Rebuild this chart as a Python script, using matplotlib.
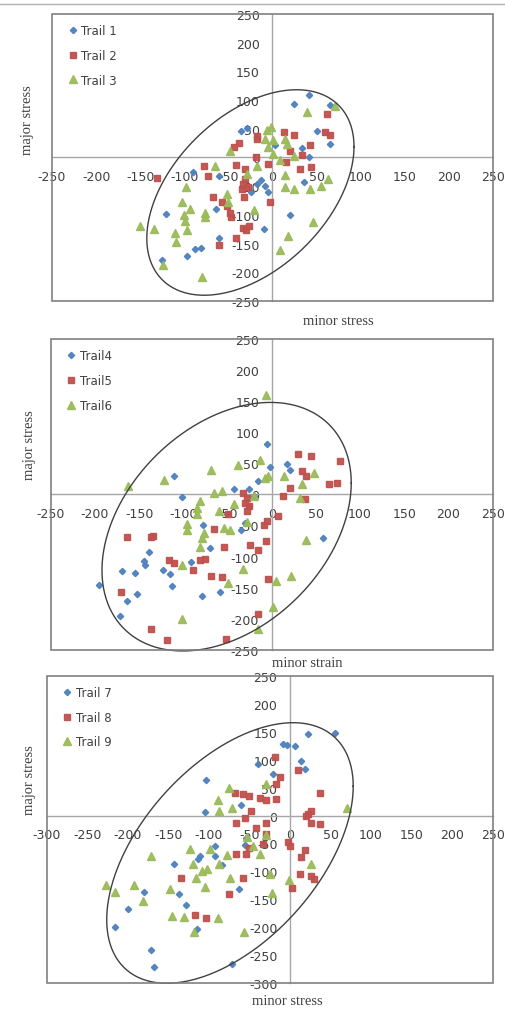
import numpy as np
import matplotlib
matplotlib.use('Agg')
import matplotlib.pyplot as plt
from matplotlib.patches import Rectangle
from matplotlib.lines import Line2D

plt.rcParams['axes.unicode_minus'] = False

# ---- data ----
t1_x = [42, 25, 65, -36, -29, 50, 65, 3, 33, 41, 36, -8, -18, -61, -90, -24, -5, -121, -64, 20,
        -10, -61, -81, -88, -97, -125, -13]
t1_y = [109, 93, 92, 46, 51, 46, 24, 21, 16, 0, -43, -49, -46, -32, -26, -61, -61, -98, -90, -100,
        -125, -141, -158, -159, -171, -178, -40]
t2_x = [62, 60, 65, 24, 13, -18, -38, -44, 43, 20, 33, -19, -5, 15, 31, 44, -78, -73, -41, -131,
        -31, -33, -34, -28, -67, -57, -52, -48, -47, -32, -33, -27, -30, -41, -61, -3, -18, -31]
t2_y = [76, 44, 39, 39, 44, 38, 25, 18, 22, 12, 4, 0, -11, -8, -20, -16, -14, -33, -13, -35,
        -38, -46, -55, -52, -68, -77, -84, -96, -103, -69, -122, -119, -127, -141, -152, -78, 32, -20]
t3_x = [71, 39, -2, -6, -48, -8, -5, 1, 14, 16, 24, 8, -18, -29, -65, 14, 14, 24, 43, 55, 63,
        -98, -103, -93, -100, -99, -76, -76, -51, -50, -150, -134, -111, -109, -97, -124, -80,
        46, 18, 9, -21, 1]
t3_y = [89, 79, 53, 48, 12, 32, 18, 6, 32, 24, 3, -5, -14, -29, -14, -31, -52, -55, -55, -49, -38,
        -52, -78, -90, -100, -110, -96, -104, -64, -78, -119, -125, -132, -147, -127, -188, -209,
        -112, -136, -161, -91, 31]

t4_x = [-5, -2, 17, 21, -16, -43, -26, -111, -101, -78, -70, -35, -30, -20, -139, -144, -143, -169,
        -155, -152, -164, -172, -195, -123, -115, -113, -91, -79, -59, 58, -50, -26]
t4_y = [81, 44, 49, 39, 21, 9, 8, 29, -5, -49, -86, -57, -46, -3, -92, -108, -113, -123,
        -127, -160, -171, -196, -146, -121, -128, -148, -109, -163, -157, -70, -32, -19]
t5_x = [30, 44, 77, 34, 39, 65, 74, 21, 13, 38, -32, -28, -30, -26, -28, -49, 7, -5, -9, -65,
        -24, -16, -6, -54, -164, -137, -134, -116, -111, -89, -81, -75, -69, -56, -4, -171,
        -137, -118, -52, -15]
t5_y = [65, 62, 53, 37, 29, 16, 19, 11, -3, -8, 3, -6, -14, -19, -27, -32, -34, -43, -49, -55,
        -82, -89, -75, -84, -68, -68, -67, -106, -110, -122, -106, -104, -131, -133, -136, -157,
        -217, -234, -232, -193]
t6_x = [-6, -13, -38, -69, -122, -163, -8, -4, 14, 48, 34, -56, -65, -43, -60, -81, -84, -84, -96,
        -96, -77, -79, -81, -54, -47, -28, -101, -33, -49, 5, 22, 39, 1, -16, -102, 32, -20]
t6_y = [160, 56, 48, 39, 23, 14, 27, 29, 29, 35, 17, 5, 3, -16, -27, -11, -22, -32, -47,
        -57, -62, -70, -85, -54, -57, -45, -113, -120, -142, -140, -132, -74, -181, -217, -200, -6, -3]

t7_x = [55, 22, -9, -4, 6, 14, 18, -40, -21, -103, -61, -105, -54, -92, -92, -111, -114, -84, -143,
        -63, -137, -128, -180, -200, -216, -171, -168, -115, -72, -56]
t7_y = [147, 145, 128, 126, 125, 98, 83, 93, 74, 64, 19, 7, -41, -54, -72, -72, -78, -89, -87,
        -132, -140, -160, -137, -168, -200, -241, -271, -203, -266, -52]
t8_x = [-19, 10, -12, -17, -68, -58, -50, -37, -29, -17, 37, 26, 22, 20, 26, 37, -48, -55, -67, -30,
        -42, -29, -33, -50, -66, -54, 0, -3, 19, 14, 26, 30, 12, 3, -58, -75, -135, -117, -104]
t8_y = [104, 81, 68, 56, 41, 38, 35, 32, 27, 30, 41, 8, 2, 0, -13, -16, 8, -5, -14, -13,
        -22, -33, -51, -58, -69, -69, -54, -48, -62, -75, -108, -114, -104, -129, -111, -141,
        -112, -178, -184]
t9_x = [70, -75, -89, -87, -72, -29, -78, -87, -102, -109, -120, -123, -99, -116, -105, -74, -53, -45,
        -37, -29, -25, -1, -22, 26, -172, -227, -216, -192, -181, -148, -146, -131, -89, -118, -57]
t9_y = [14, 49, 27, 8, 14, 57, -71, -87, -96, -99, -86, -60, -60, -111, -128, -111, -39, -55,
        -69, -34, -105, -116, -138, -86, -72, -124, -137, -125, -153, -132, -179, -181, -184, -208, -209]

x_labels = ['minor stress', 'minor strain', 'minor stress']
y_label = 'major stress'

blue = '#4F81BD'
red = '#C0504D'
green = '#9BBB59'

fig = plt.figure(figsize=(5.05, 10.12), dpi=100)

panels = [
    dict(pos=[0.103, 0.7016, 0.873, 0.2836], lim=(-250, 250), ylim=(-250, 250),
         series=[(t1_x, t1_y, 'Trail 1'), (t2_x, t2_y, 'Trail 2'), (t3_x, t3_y, 'Trail 3')],
         ell=(-25, -61, 117.5, 179, 63.5), xlab=(338, 322), ylab=(27, 120)),
    dict(pos=[0.1004, 0.357, 0.8752, 0.307], lim=(-250, 250), ylim=(-250, 250),
         series=[(t4_x, t4_y, 'Trail4'), (t5_x, t5_y, 'Trail5'), (t6_x, t6_y, 'Trail6')],
         ell=(-51, -52, 141, 200, 69.4), xlab=(307, 664), ylab=(30, 445)),
    dict(pos=[0.0925, 0.0274, 0.8831, 0.3039], lim=(-300, 250), ylim=(-300, 250),
         series=[(t7_x, t7_y, 'Trail 7'), (t8_x, t8_y, 'Trail 8'), (t9_x, t9_y, 'Trail 9')],
         ell=(-74, -67, 152, 233, 59.2), xlab=(287, 1002), ylab=(30, 780)),
]

styles = [dict(marker='D', color=blue, ms=3.2),
          dict(marker='s', color=red, ms=5),
          dict(marker='^', color=green, ms=6)]

for i, p in enumerate(panels):
    ax = fig.add_axes(p['pos'])
    for (xs, ys, lab), st in zip(p['series'], styles):
        ax.plot(xs, ys, linestyle='none', marker=st['marker'], color=st['color'],
                ms=st['ms'], mec=st['color'], label=lab, alpha=0.95, zorder=3)

    # ellipse drawn around the cloud
    cx, cy, ex, ey, phi = p['ell']
    t = np.linspace(0, 2 * np.pi, 400)
    ax.plot(cx + ex * np.cos(t), cy + ey * np.cos(t - np.radians(phi)),
            color='#404040', lw=1.0, zorder=4, clip_on=False)

    ax.set_xlim(p['lim'])
    ax.set_ylim(p['ylim'])
    ax.set_xticks(np.arange(p['lim'][0], p['lim'][1] + 1, 50))
    ax.set_yticks(np.arange(p['ylim'][0], p['ylim'][1] + 1, 50))
    ax.spines['left'].set_position('zero')
    ax.spines['bottom'].set_position('zero')
    ax.spines['right'].set_visible(False)
    ax.spines['top'].set_visible(False)
    for s in ('left', 'bottom'):
        ax.spines[s].set_color('#A6A6A6')
        ax.spines[s].set_linewidth(1.0)
    ax.tick_params(length=0, labelsize=9, labelcolor='#404040', pad=9)
    ax.add_patch(Rectangle((0, 0), 1, 1, transform=ax.transAxes, fill=False,
                           edgecolor='#808080', lw=1.2, zorder=5, clip_on=False))

    ax.legend(loc='upper left', bbox_to_anchor=(0.02, 0.99), frameon=False,
              fontsize=8.5, handlelength=0.8, handletextpad=0.3, labelspacing=1.0,
              borderaxespad=0.2, labelcolor='#404040')

    fig.text(p['xlab'][0] / 505, 1 - p['xlab'][1] / 1012, x_labels[i],
             family='Liberation Serif', fontsize=10.5, color='#404040', ha='center', va='center')
    fig.text(p['ylab'][0] / 505, 1 - p['ylab'][1] / 1012, y_label, rotation=90,
             family='Liberation Serif', fontsize=10.5, color='#404040', ha='center', va='center')

fig.add_artist(Line2D([0, 1], [1 - 5 / 1012, 1 - 5 / 1012], transform=fig.transFigure,
                      color='#B0B0B0', lw=1.0))

fig.savefig('out.png', dpi=100)
